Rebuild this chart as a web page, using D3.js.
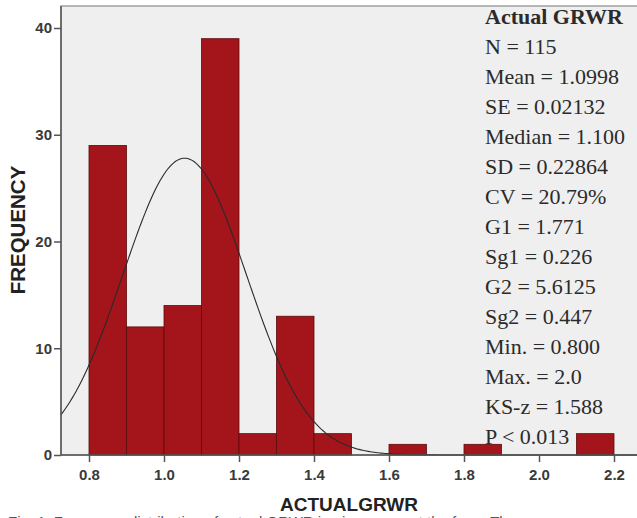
<!DOCTYPE html>
<html>
<head>
<meta charset="utf-8">
<script src="https://d3js.org/d3.v7.min.js"></script>
<style>
  body { margin: 0; background: #fff; }
  svg { display: block; }
</style>
</head>
<body>
<div id="chart"></div>
<script>
// histogram bins (width 0.1) and their counts
var binStarts = [0.8, 0.9, 1.0, 1.1, 1.2, 1.3, 1.4, 1.5, 1.6, 1.7, 1.8, 1.9, 2.0, 2.1];
var counts    = [29, 12, 14, 39, 2, 13, 2, 0, 1, 0, 1, 0, 0, 2];
var binWidth = 0.1;

// fitted normal curve as drawn in the picture
var curveMean = 1.055, curveSD = 0.165, curveN = 115;

var xTicks = [0.8, 1.0, 1.2, 1.4, 1.6, 1.8, 2.0, 2.2];
var yTicks = [0, 10, 20, 30, 40];

var statLines = ["Actual GRWR", "N = 115", "Mean = 1.0998", "SE = 0.02132", "Median = 1.100",
  "SD = 0.22864", "CV = 20.79%", "G1 = 1.771", "Sg1 = 0.226", "G2 = 5.6125", "Sg2 = 0.447",
  "Min. = 0.800", "Max. = 2.0", "KS-z = 1.588", "P < 0.013"];

var width = 637, height = 518;
var plot = {left: 61, top: 6, right: 660, bottom: 455};

var svg = d3.select("#chart").append("svg")
    .attr("width", width)
    .attr("height", height);

var x = d3.scaleLinear().domain([0.8, 2.2]).range([89, 614]);
var y = d3.scaleLinear().domain([0, 40]).range([455, 28]);

// plot background
svg.append("rect")
    .attr("x", plot.left).attr("y", plot.top)
    .attr("width", plot.right - plot.left).attr("height", plot.bottom - plot.top)
    .attr("fill", "#efefef")
    .attr("stroke", "#8a8a8a").attr("stroke-width", 1.2);

// bars
svg.append("g").selectAll("rect")
    .data(binStarts.map(function(b, i) { return {x0: b, n: counts[i]}; }).filter(function(d) { return d.n > 0; }))
    .enter().append("rect")
    .attr("x", function(d) { return x(d.x0); })
    .attr("y", function(d) { return y(d.n); })
    .attr("width", function(d) { return x(d.x0 + binWidth) - x(d.x0); })
    .attr("height", function(d) { return y(0) - y(d.n); })
    .attr("fill", "#a3151b")
    .attr("stroke", "#5c0c0e")
    .attr("stroke-width", 0.8);

// normal curve
var xs = d3.range(0.725, 2.27, 0.005);
var norm = function(v) {
  var z = (v - curveMean) / curveSD;
  return curveN * binWidth / (curveSD * Math.sqrt(2 * Math.PI)) * Math.exp(-0.5 * z * z);
};
svg.append("path")
    .datum(xs)
    .attr("fill", "none")
    .attr("stroke", "#2a2a2a")
    .attr("stroke-width", 1.1)
    .attr("d", d3.line().x(function(d) { return x(d); }).y(function(d) { return y(norm(d)); }));

// axes
var xAxis = svg.append("g")
    .attr("transform", "translate(0," + plot.bottom + ")")
    .call(d3.axisBottom(x).tickValues(xTicks).tickFormat(d3.format(".1f")).tickSizeOuter(0).tickSize(7));
xAxis.select(".domain").attr("d", "M" + plot.left + ",0H" + width).attr("stroke", "#555").attr("stroke-width", 1.5);

var yAxis = svg.append("g")
    .attr("transform", "translate(" + plot.left + ",0)")
    .call(d3.axisLeft(y).tickValues(yTicks).tickSizeOuter(0).tickSize(7));
yAxis.select(".domain").attr("d", "M0," + plot.top + "V" + plot.bottom).attr("stroke", "#555").attr("stroke-width", 1.5);

svg.selectAll(".tick line").attr("stroke", "#555").attr("stroke-width", 1.5);
svg.selectAll(".tick text")
    .style("font-family", "Liberation Sans, Arial, sans-serif")
    .style("font-weight", "bold")
    .style("font-size", "15px")
    .attr("fill", "#3a3a3a");
xAxis.selectAll(".tick text").attr("y", 14);
yAxis.selectAll(".tick text").attr("x", -9);

// axis titles
svg.append("text")
    .attr("transform", "translate(25,230) rotate(-90)")
    .attr("text-anchor", "middle")
    .style("font-family", "Liberation Sans, Arial, sans-serif")
    .style("font-weight", "bold")
    .style("font-size", "20.5px")
    .attr("fill", "#222")
    .text("FREQUENCY");

svg.append("text")
    .attr("x", 349).attr("y", 511)
    .attr("text-anchor", "middle")
    .style("font-family", "Liberation Sans, Arial, sans-serif")
    .style("font-weight", "bold")
    .style("font-size", "19px")
    .attr("fill", "#222")
    .text("ACTUALGRWR");

// statistics block
svg.append("g").selectAll("text")
    .data(statLines)
    .enter().append("text")
    .attr("x", 485)
    .attr("y", function(d, i) { return 24 + i * 30; })
    .style("font-family", "Liberation Serif, Times New Roman, serif")
    .style("font-size", "22px")
    .style("font-weight", function(d, i) { return i === 0 ? "bold" : "normal"; })
    .attr("fill", "#2b2b2b")
    .text(function(d) { return d; });

// caption, cut off by the bottom edge as in the source
svg.append("text")
    .attr("x", 8).attr("y", 527)
    .style("font-family", "Liberation Sans, Arial, sans-serif")
    .style("font-size", "15px")
    .attr("fill", "#555")
    .text("Fig. 1: Frequency distribution of actual GRWR in pigs grown at the farm. The");
</script>
</body>
</html>
